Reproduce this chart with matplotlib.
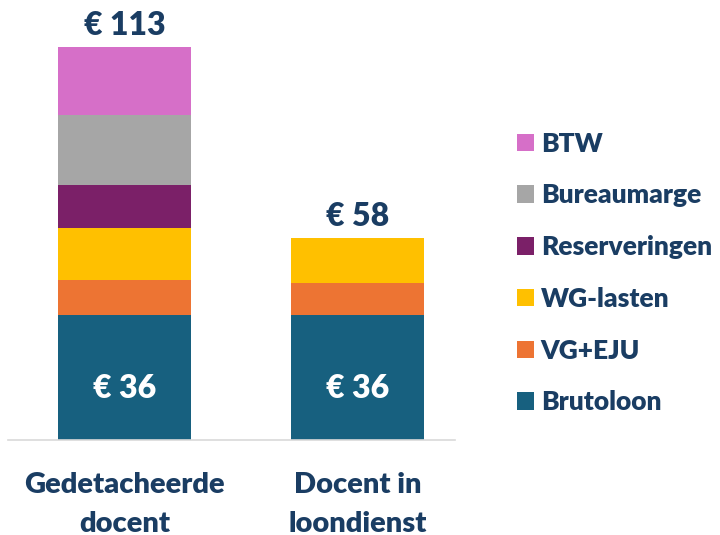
import matplotlib.pyplot as plt
import numpy as np

# Data
categories = ["Gedetacheerde\ndocent", "Docent in\nloondienst"]
components = ["Brutoloon", "VG+EJU", "WG-lasten", "Reserveringen", "Bureaumarge", "BTW"]
brutoloon = [36, 36]
vg_eju = [10, 9]
wg_lasten = [15, 13]
reserveringen = [12.4, 0]
bureaumarge = [20, 0]
btw = [19.6, 0]
totals = ["€ 113", "€ 58"]
base_labels = ["€ 36", "€ 36"]

colors = ["#17607F", "#ED7433", "#FFC000", "#7B2068", "#A6A6A6", "#D66FC8"]
text_color = "#1A3D63"

plt.rcParams['font.family'] = ['Lato', 'DejaVu Sans']
plt.rcParams['font.weight'] = 'heavy'
W = 'heavy'

fig = plt.figure(figsize=(7.2, 5.35), dpi=100)
ax = fig.add_axes([8 / 720, 95 / 535, 447 / 720, 420 / 535])

x = np.arange(len(categories))
series = [brutoloon, vg_eju, wg_lasten, reserveringen, bureaumarge, btw]
bottom = np.zeros(len(categories))
handles = []
for name, vals, col in zip(components, series, colors):
    vals = np.array(vals, dtype=float)
    h = ax.bar(x, vals, width=0.57, bottom=bottom, color=col, label=name)
    handles.append(h)
    bottom += vals

for i in range(len(categories)):
    ax.annotate(totals[i], (x[i], bottom[i]), xytext=(0, 5), textcoords='offset points',
                ha='center', va='bottom', fontsize=23, fontweight=W, color=text_color)
    ax.annotate(base_labels[i], (x[i], brutoloon[i] / 2), xytext=(0, -8), textcoords='offset points',
                ha='center', va='center', fontsize=23, fontweight=W, color='white')

ax.set_xlim(-0.5, 1.418)
ax.set_ylim(0, 120.76)
ax.set_xticks(x)
ax.set_xticklabels(categories, fontsize=21, fontweight=W, color=text_color, linespacing=1.6)
ax.tick_params(axis='x', length=0, pad=23)
ax.set_yticks([])
for s in ['top', 'right', 'left']:
    ax.spines[s].set_visible(False)
ax.spines['bottom'].set_color('#D9D9D9')
ax.spines['bottom'].set_linewidth(1.2)

leg = fig.legend(handles[::-1], components[::-1], loc='center left',
                 bbox_to_anchor=(493 / 720, 1 - 273 / 535), frameon=False,
                 prop={'size': 19, 'weight': W}, labelcolor=text_color,
                 handlelength=0.64, handleheight=0.64, handletextpad=0.27,
                 labelspacing=1.05)

fig.savefig('out.png', dpi=100)
